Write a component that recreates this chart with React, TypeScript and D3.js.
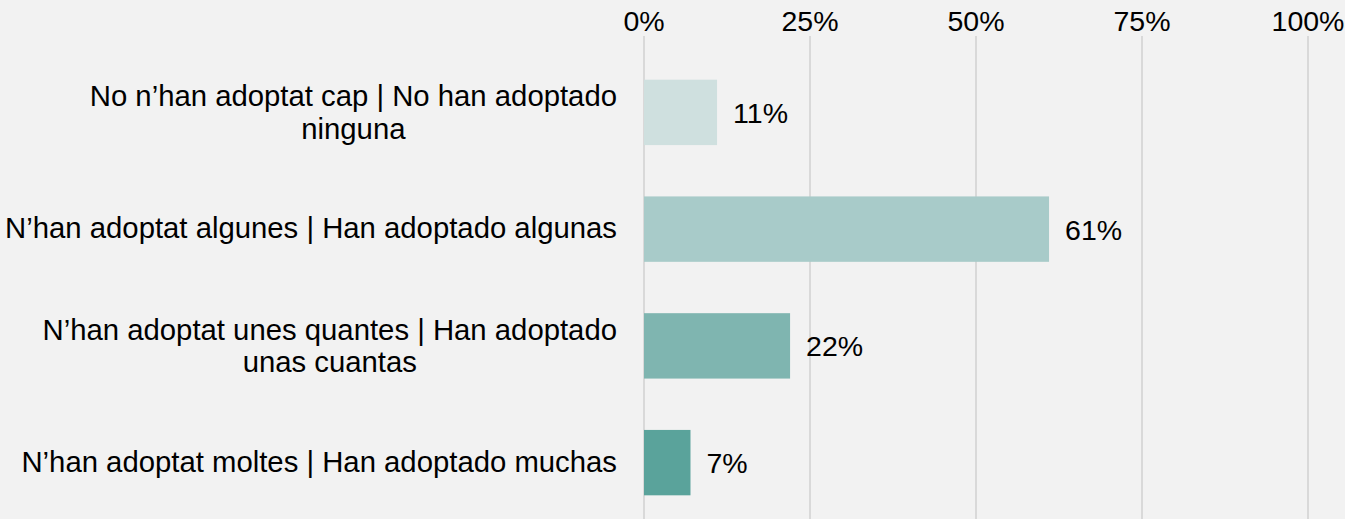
import * as d3 from "d3"

const categories = [
  ["No n’han adoptat cap | No han adoptado", "ninguna"],
  ["N’han adoptat algunes | Han adoptado algunas"],
  ["N’han adoptat unes quantes | Han adoptado", "unas cuantas"],
  ["N’han adoptat moltes | Han adoptado muchas"],
]
const values = [11, 61, 22, 7]
const barColors = ["#cfe0df", "#a8cbc9", "#7fb5b0", "#5aa39b"]
const ticks = [0, 25, 50, 75, 100]

const width = 1345
const height = 519
const font = "'Liberation Sans', Arial, sans-serif"
const labelSize = 29.3
const numSize = 28.5

let ctx: CanvasRenderingContext2D | null = null
function measure(text: string, size: number) {
  if (!ctx) ctx = document.createElement("canvas").getContext("2d")
  if (!ctx) return text.length * size * 0.5
  ctx.font = `${size}px ${font}`
  return ctx.measureText(text).width
}

export default function App() {
  const x = d3.scaleLinear().domain([0, 100]).range([644, 1308])
  const y = d3
    .scaleBand<number>()
    .domain(d3.range(categories.length))
    .range([54, 521])
    .paddingInner(0.44)
    .paddingOuter(0.22)

  const labelRight = 617
  const lineHeight = 32.5

  return (
    <svg
      width={width}
      height={height}
      style={{ position: "absolute", left: 0, top: 0, background: "#f2f2f2" }}
      fontFamily={font}
    >
      <rect width={width} height={height} fill="#f2f2f2" />

      {/* gridlines + top tick labels */}
      {ticks.map((t) => (
        <g key={t}>
          <line x1={x(t)} x2={x(t)} y1={36} y2={height} stroke="#d9d9d9" strokeWidth={2} />
          <text x={x(t)} y={31} textAnchor="middle" fontSize={numSize} fill="#000">
            {t}%
          </text>
        </g>
      ))}

      {values.map((v, i) => {
        const cy = y(i)! + y.bandwidth() / 2
        const lines = categories[i]
        const maxW = d3.max(lines, (l) => measure(l, labelSize)) ?? 0
        const cx = labelRight - maxW / 2
        const base = lines.length > 1 ? 10 : 9
        return (
          <g key={i}>
            <rect
              x={x(0)}
              y={y(i)}
              width={x(v) - x(0)}
              height={y.bandwidth()}
              fill={barColors[i]}
            />
            <text x={x(v) + 16} y={cy + 10.5} fontSize={numSize} fill="#000">
              {v}%
            </text>
            {lines.map((l, j) => (
              <text
                key={j}
                x={cx}
                y={cy + base + (j - (lines.length - 1) / 2) * lineHeight}
                textAnchor="middle"
                fontSize={labelSize}
                fill="#000"
              >
                {l}
              </text>
            ))}
          </g>
        )
      })}
    </svg>
  )
}
